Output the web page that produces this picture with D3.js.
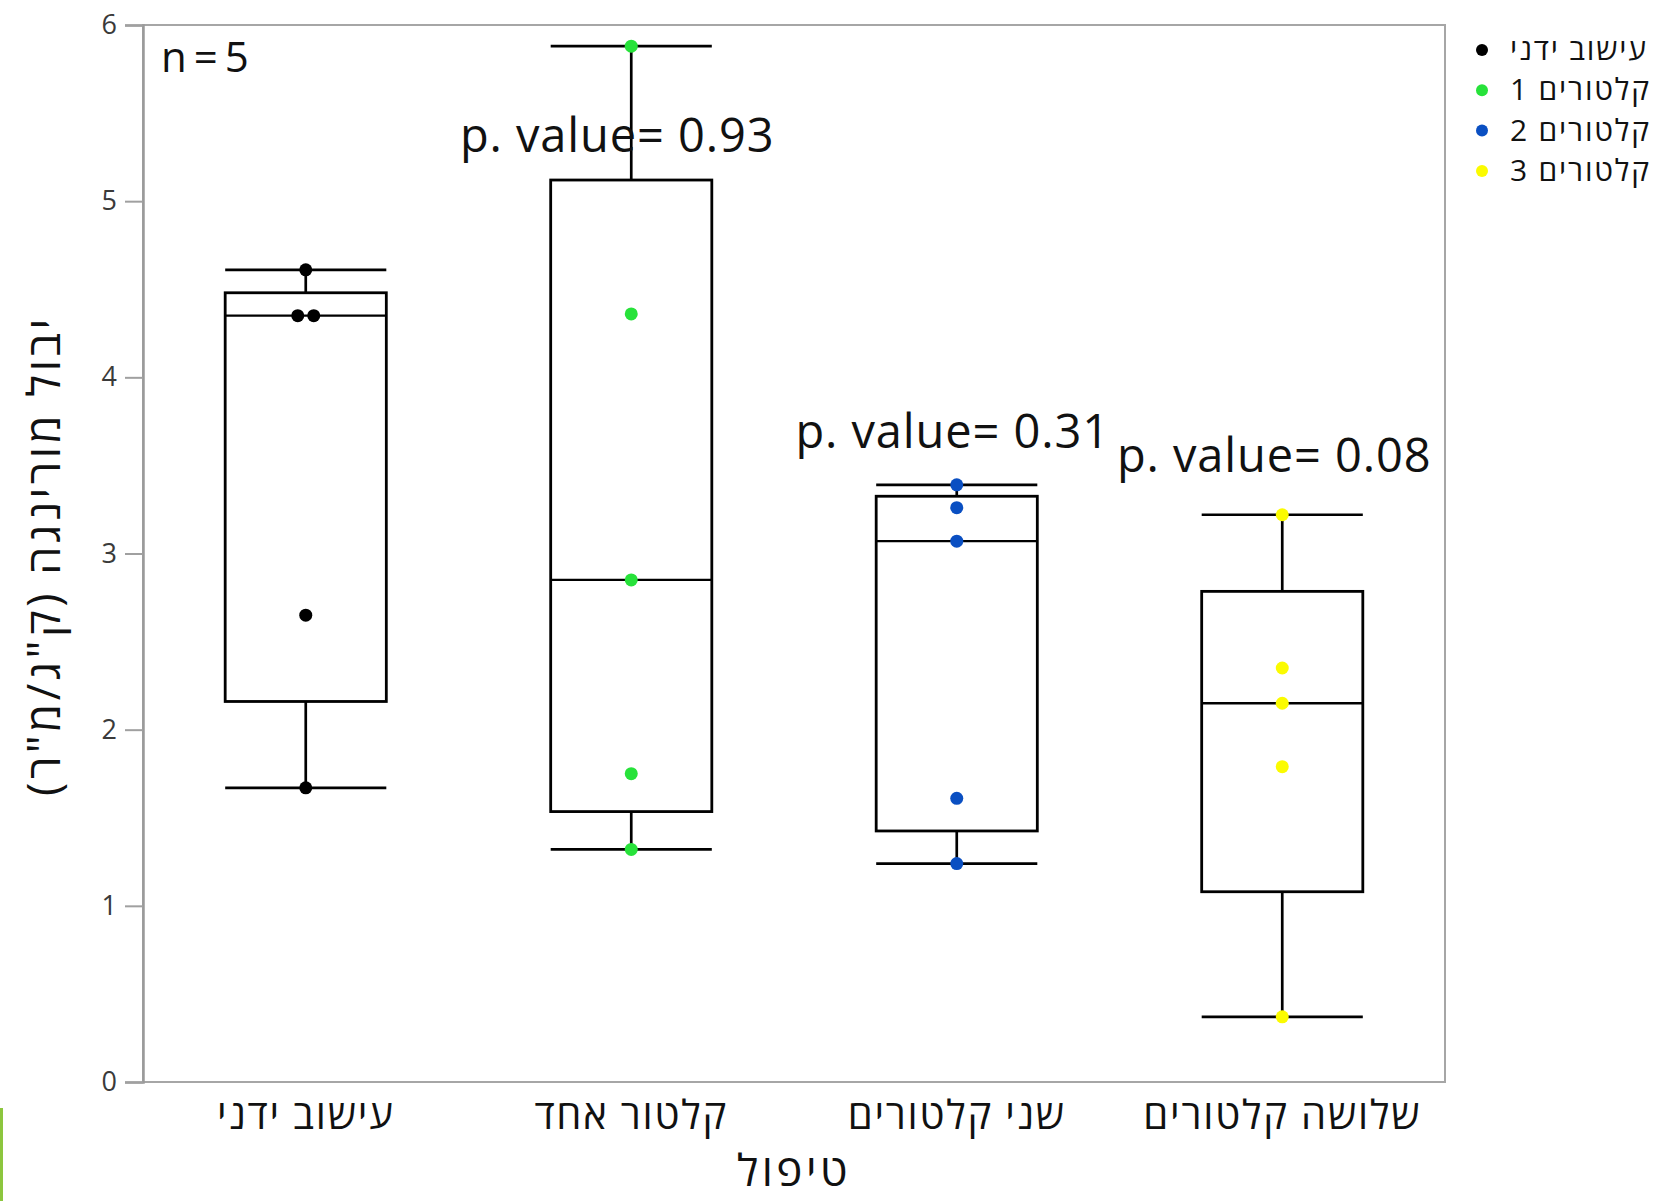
<!DOCTYPE html>
<html lang="he">
<head>
<meta charset="utf-8">
<title>יבול מורינגה לפי טיפול</title>
<script src="https://cdn.jsdelivr.net/npm/d3@7/dist/d3.min.js"></script>
<style>
  html, body { margin: 0; padding: 0; background: #ffffff; }
  svg { display: block; }
  text { font-family: "Open Sans", "Noto Sans", "Liberation Sans", "DejaVu Sans", sans-serif; }
</style>
</head>
<body>
<svg id="chart" width="1662" height="1201"></svg>
<script>
// Treatments (x categories) and legend series names
const categories = ["עישוב ידני", "קלטור אחד", "שני קלטורים", "שלושה קלטורים"];
const seriesNames = ["עישוב ידני", "קלטורים 1", "קלטורים 2", "קלטורים 3"];

// Yield per plot, kg per m², five replicates per treatment
const manualWeeding    = [4.61, 4.35, 4.35, 2.65, 1.67];
const oneCultivator    = [5.88, 4.36, 2.85, 1.75, 1.32];
const twoCultivators   = [3.39, 3.26, 3.07, 1.61, 1.24];
const threeCultivators = [3.22, 2.35, 2.15, 1.79, 0.37];

// p-values versus manual weeding (none for the control itself)
const pValues = [null, 0.93, 0.31, 0.08];

const yTickValues = [0, 1, 2, 3, 4, 5, 6];
const sampleSizeLabel = "n=5";
const xTitle = "טיפול";
const yTitle = "יבול מורינגה (ק\"ג/מ\"ר)";

const groups = [manualWeeding, oneCultivator, twoCultivators, threeCultivators];
const palette = ["#000000", "#27e23a", "#0a4fc2", "#fbfb00"];

// Quantile at position (n+1)p, the convention used by JMP box plots
function quantile(sorted, p) {
  const n = sorted.length;
  const h = (n + 1) * p;
  if (h <= 1) return sorted[0];
  if (h >= n) return sorted[n - 1];
  const lo = Math.floor(h);
  return sorted[lo - 1] + (h - lo) * (sorted[lo] - sorted[lo - 1]);
}

function boxStats(values) {
  const s = values.slice().sort((a, b) => a - b);
  const q1 = quantile(s, 0.25), med = quantile(s, 0.5), q3 = quantile(s, 0.75);
  const iqr = q3 - q1;
  const inside = s.filter(v => v >= q1 - 1.5 * iqr && v <= q3 + 1.5 * iqr);
  return { q1, med, q3, lo: d3.min(inside), hi: d3.max(inside) };
}

const svg = d3.select("#chart");
const plot = { left: 143, right: 1445, top: 25, bottom: 1082 };

const x = d3.scaleBand().domain(categories).range([plot.left, plot.right]).padding(0);
const y = d3.scaleLinear().domain([0, 6]).range([plot.bottom, plot.top]);
const boxW = x.bandwidth() * 0.495;

// Plot frame
svg.append("rect")
  .attr("x", plot.left).attr("y", plot.top)
  .attr("width", plot.right - plot.left).attr("height", plot.bottom - plot.top)
  .attr("fill", "none").attr("stroke", "#a6a6a6").attr("stroke-width", 2);

// Y axis
const yAxis = svg.append("g")
  .attr("transform", `translate(${plot.left},0)`)
  .call(d3.axisLeft(y).tickValues(yTickValues).tickSize(18).tickPadding(8).tickFormat(d3.format("d")));
yAxis.select(".domain").attr("stroke", "#9a9a9a").attr("stroke-width", 2.5);
yAxis.selectAll(".tick line").attr("stroke", "#a0a0a0").attr("stroke-width", 2);
yAxis.selectAll(".tick text")
  .attr("fill", "#3a3a3a").attr("font-size", 27)
  .style("font-family", "'Open Sans', 'Noto Sans', sans-serif");

// X axis labels
const xAxis = svg.append("g")
  .attr("transform", `translate(0,${plot.bottom})`)
  .call(d3.axisBottom(x).tickSize(0).tickPadding(0));
xAxis.select(".domain").remove();
xAxis.selectAll(".tick text")
  .attr("y", 47).attr("dy", 0)
  .attr("direction", "rtl")
  .attr("fill", "#111").attr("font-size", 40)
  .attr("letter-spacing", 1.8);

// Axis titles
svg.append("text")
  .attr("x", (plot.left + plot.right) / 2).attr("y", 1186)
  .attr("text-anchor", "middle").attr("direction", "rtl")
  .attr("fill", "#111").attr("font-size", 44).attr("letter-spacing", 3.5)
  .text(xTitle);

svg.append("text")
  .attr("transform", `translate(60,${(plot.top + plot.bottom) / 2 + 2}) rotate(-90)`)
  .attr("text-anchor", "middle").attr("direction", "rtl")
  .attr("fill", "#111").attr("font-size", 45).attr("letter-spacing", 3.5)
  .text(yTitle);

// Box plots
groups.forEach((vals, i) => {
  const st = boxStats(vals);
  const cx = x(categories[i]) + x.bandwidth() / 2;
  const g = svg.append("g").attr("stroke", "#000").attr("fill", "none");
  // whisker stems
  g.append("line").attr("x1", cx).attr("x2", cx).attr("y1", y(st.hi)).attr("y2", y(st.q3)).attr("stroke-width", 2.7);
  g.append("line").attr("x1", cx).attr("x2", cx).attr("y1", y(st.q1)).attr("y2", y(st.lo)).attr("stroke-width", 2.7);
  // whisker caps
  [st.hi, st.lo].forEach(v => {
    g.append("line").attr("x1", cx - boxW / 2).attr("x2", cx + boxW / 2)
      .attr("y1", y(v)).attr("y2", y(v)).attr("stroke-width", 2.7);
  });
  // box and median
  g.append("rect").attr("x", cx - boxW / 2).attr("y", y(st.q3))
    .attr("width", boxW).attr("height", y(st.q1) - y(st.q3)).attr("stroke-width", 2.8);
  g.append("line").attr("x1", cx - boxW / 2).attr("x2", cx + boxW / 2)
    .attr("y1", y(st.med)).attr("y2", y(st.med)).attr("stroke-width", 2.3);
});

// Data points: tied values are spread sideways
groups.forEach((vals, i) => {
  const cx = x(categories[i]) + x.bandwidth() / 2;
  const counts = d3.rollup(vals, v => v.length, v => v);
  const seen = new Map();
  const pts = vals.map(v => {
    const k = seen.get(v) || 0; seen.set(v, k + 1);
    const n = counts.get(v);
    return { v, dx: (k - (n - 1) / 2) * 16 };
  });
  svg.append("g").selectAll("circle").data(pts).join("circle")
    .attr("cx", d => cx + d.dx).attr("cy", d => y(d.v))
    .attr("r", 6.5).attr("fill", palette[i]);
});

// p-value annotations
const pLabelY = [null, 5.28, 3.6, 3.46];
const pLabelShift = [0, -14, -4, -8];
pValues.forEach((p, i) => {
  if (p === null) return;
  svg.append("text")
    .attr("x", x(categories[i]) + x.bandwidth() / 2 + pLabelShift[i])
    .attr("y", y(pLabelY[i]))
    .attr("text-anchor", "middle").attr("fill", "#111").attr("font-size", 47)
    .attr("letter-spacing", 0.9)
    .style("white-space", "pre")
    .text(`p. value= ${d3.format(".2f")(p)}`);
});

// Sample size
svg.append("text").attr("x", 161).attr("y", 72)
  .attr("fill", "#111").attr("font-size", 42).attr("letter-spacing", 7).text(sampleSizeLabel);

// Legend
const legend = svg.append("g");
seriesNames.forEach((name, i) => {
  const ly = 50 + i * 40.3;
  legend.append("circle").attr("cx", 1482).attr("cy", ly).attr("r", 6).attr("fill", palette[i]);
  legend.append("text").attr("x", 1510).attr("y", ly + 10)
    .attr("direction", "rtl").attr("text-anchor", "end")
    .attr("fill", "#111").attr("font-size", 30).attr("letter-spacing", 1.8).text(name);
});

// Thin green strip at the lower-left edge
svg.append("rect").attr("x", 0).attr("y", 1108).attr("width", 3).attr("height", 93).attr("fill", "#8cc63e");
</script>
</body>
</html>
